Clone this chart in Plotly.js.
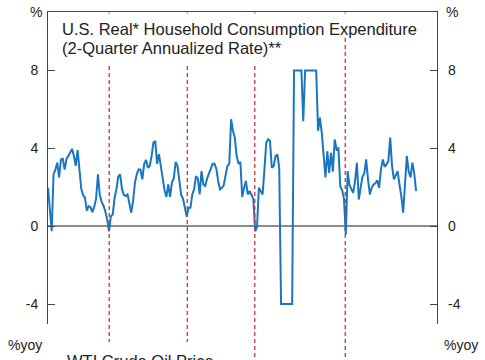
<!DOCTYPE html>
<html>
<head>
<meta charset="utf-8">
<script src="https://cdn.plot.ly/plotly-3.0.1.min.js"></script>
<style>
  html, body { margin: 0; padding: 0; overflow: hidden; background: #fff; }
  #chart { width: 485px; height: 700px; }
</style>
</head>
<body>
<div id="chart"></div>
<script>
// ---- Data ----
// Monthly observations, clipped at the chart's -4 / 8 bounds as in the original
const consumptionRate = [
  1.97, 0.9, -0.26, 2.66, 2.9, 3.26, 2.5, 3.43, 3.46, 2.9,
  3.45, 3.6, 3.77, 3.97, 3.6, 3.1, 3.91, 2.8, 1.9, 1.6,
  1.45, 0.8, 1.03, 0.98, 0.72, 1.0, 1.4, 2.66, 1.6, 1.25,
  1.05, 0.75, 0.34, -0.26, 0.51, 0.6, 1.45, 1.9, 2.55, 2.66,
  1.9, 1.6, 1.55, 1.63, 1.2, 0.69, 1.3, 2.23, 2.66, 2.92,
  2.9, 2.4, 3.2, 3.4, 3.0, 3.09, 3.6, 4.29, 4.37, 3.2,
  3.7, 3.05, 2.32, 1.85, 1.5, 2.14, 1.5, 2.25, 2.45, 3.3,
  3.1, 2.4, 1.6, 1.4, 0.94, 0.5, 0.94, 0.94, 1.63, 1.9,
  2.57, 2.45, 1.63, 2.83, 2.14, 2.06, 2.45, 2.7, 3.0, 3.2,
  3.2, 2.95, 2.32, 1.89, 1.97, 2.1, 2.6, 3.09, 3.2, 5.49,
  4.89, 4.55, 3.6, 3.2, 3.3, 1.5, 1.97, 2.32, 1.63, 1.8,
  1.6, 1.4, -0.26, -0.05, 1.97, 1.8, 1.63, 2.9, 4.29, 4.46,
  4.37, 3.0, 3.08, 3.6, 3.68, 3.0, -4, -4, -4, -4,
  -4, -4, -4, 8, 8, 8, 8, 8, 5.39, 8,
  8, 8, 8, 8, 8, 8, 4.9, 5.57, 4.8, 3.4,
  2.5, 3.85, 2.74, 3.77, 2.8, 4.45, 3.94, 4.0, 2.05, 1.85,
  1.4, -0.44, 2.83, 2.1, 1.89, 1.71, 2.32, 3.26, 1.37, 2.1,
  2.55, 2.7, 3.43, 2.4, 1.63, 1.97, 2.14, 2.2, 2.35, 1.97,
  2.92, 3.43, 3.05, 3.17, 3.34, 4.55, 3.09, 2.4, 2.66, 2.83,
  2.14, 1.54, 0.69, 2.3, 3.6, 2.8, 2.5, 3.26, 2.7, 1.8
];
const months = consumptionRate.map((_, i) => i);   // month index
const eventMonths = [33.1, 75.3, 111.8, 160.7];     // dashed vertical markers
const yTickVals = [-4, 0, 4, 8];
const yTickText = ['-4', '0', '4', '8'];
const yRange = [-5, 11];
const xRange = [0, 210.3];
const titleLine1 = 'U.S. Real* Household Consumption Expenditure';
const titleLine2 = '(2-Quarter Annualized Rate)**';
const lowerTitle = 'WTI Crude Oil Price';
const upperUnit = '%';
const lowerUnit = '%yoy';

// ---- Layout geometry (pixels) ----
const W = 485, H = 700;
const M = { l: 48, r: 48, t: 12, b: 20 };
const plotW = W - M.l - M.r, plotH = H - M.t - M.b;
const PX = x => (x - M.l) / plotW;
const PY = y => 1 - (y - M.t) / plotH;

const FONT = 'Liberation Sans, Arial, Helvetica, sans-serif';
const AXIS = '#444', TXT = '#222', RED = '#c7333f', BLUE = '#1b76c0';

const layout = {
  width: W, height: H, margin: M, showlegend: false,
  font: { family: FONT, color: TXT },
  xaxis: {
    domain: [0, 1], range: xRange, anchor: 'y', side: 'top',
    showline: true, linecolor: AXIS, linewidth: 1,
    ticks: '', showticklabels: false, showgrid: false, zeroline: false
  },
  yaxis: {
    domain: [PY(323.5), 1], anchor: 'x', side: 'left', range: yRange,
    tickvals: yTickVals, ticktext: yTickText,
    ticks: 'inside', ticklen: 7, tickwidth: 1, tickcolor: AXIS,
    showline: true, mirror: 'ticks', linecolor: AXIS, linewidth: 1,
    showgrid: false, zeroline: true, zerolinecolor: '#8c8c8c', zerolinewidth: 1.6,
    tickfont: { family: FONT, size: 14, color: TXT }, ticklabelstandoff: 6
  },
  xaxis2: {
    domain: [0, 1], range: xRange, anchor: 'y2',
    showline: false, ticks: '', showticklabels: false, showgrid: false, zeroline: false
  },
  yaxis2: {
    domain: [0, PY(345)], anchor: 'x2', side: 'left', range: [0, 1],
    showline: true, mirror: true, linecolor: AXIS, linewidth: 1,
    ticks: '', showticklabels: false, showgrid: false, zeroline: false
  },
  shapes: [],
  annotations: []
};

// dashed event lines spanning both panels
eventMonths.forEach(m => {
  layout.shapes.push({
    type: 'line', xref: 'x', yref: 'paper',
    x0: m, x1: m, y0: PY(H), y1: PY(12.5),
    line: { color: RED, width: 1.3, dash: '4px,3px' }, layer: 'above'
  });
});
// white backgrounds behind the panel titles
[[55, 432, 13.5, 38], [55, 300, 37.5, 63.5], [58, 232, 342, H]].forEach(r => {
  layout.shapes.push({
    type: 'rect', xref: 'paper', yref: 'paper',
    x0: PX(r[0]), x1: PX(r[1]), y0: PY(r[3]), y1: PY(r[2]),
    fillcolor: '#ffffff', line: { width: 0 }, layer: 'above'
  });
});

function note(text, x, y, xanchor, size) {
  layout.annotations.push({
    text: text, xref: 'paper', yref: 'paper', x: PX(x), y: PY(y),
    xanchor: xanchor, yanchor: 'middle', showarrow: false, borderpad: 0,
    font: { family: FONT, size: size, color: TXT }
  });
}
note(titleLine1, 61, 29.3, 'left', 16.5);
note(titleLine2, 61, 47.8, 'left', 16.5);
note(lowerTitle, 66, 361, 'left', 16.5);
note(upperUnit, 43, 11.5, 'right', 14);
note(upperUnit, 445, 11.5, 'left', 14);
note(lowerUnit, 42.5, 344.5, 'right', 14);
note(lowerUnit, 443, 344.5, 'left', 14);
// right-hand tick labels, placed on the y scale
yTickVals.forEach((v, i) => {
  layout.annotations.push({
    text: yTickText[i], xref: 'paper', yref: 'y', x: PX(447), y: v,
    xanchor: 'left', yanchor: 'middle', showarrow: false, borderpad: 0,
    font: { family: FONT, size: 14, color: TXT }
  });
});

const traces = [{
  type: 'scatter', mode: 'lines', x: months, y: consumptionRate,
  xaxis: 'x', yaxis: 'y', line: { color: BLUE, width: 2 }, hoverinfo: 'skip'
}];

Plotly.newPlot('chart', traces, layout, { displayModeBar: false, staticPlot: true });
</script>
</body>
</html>
